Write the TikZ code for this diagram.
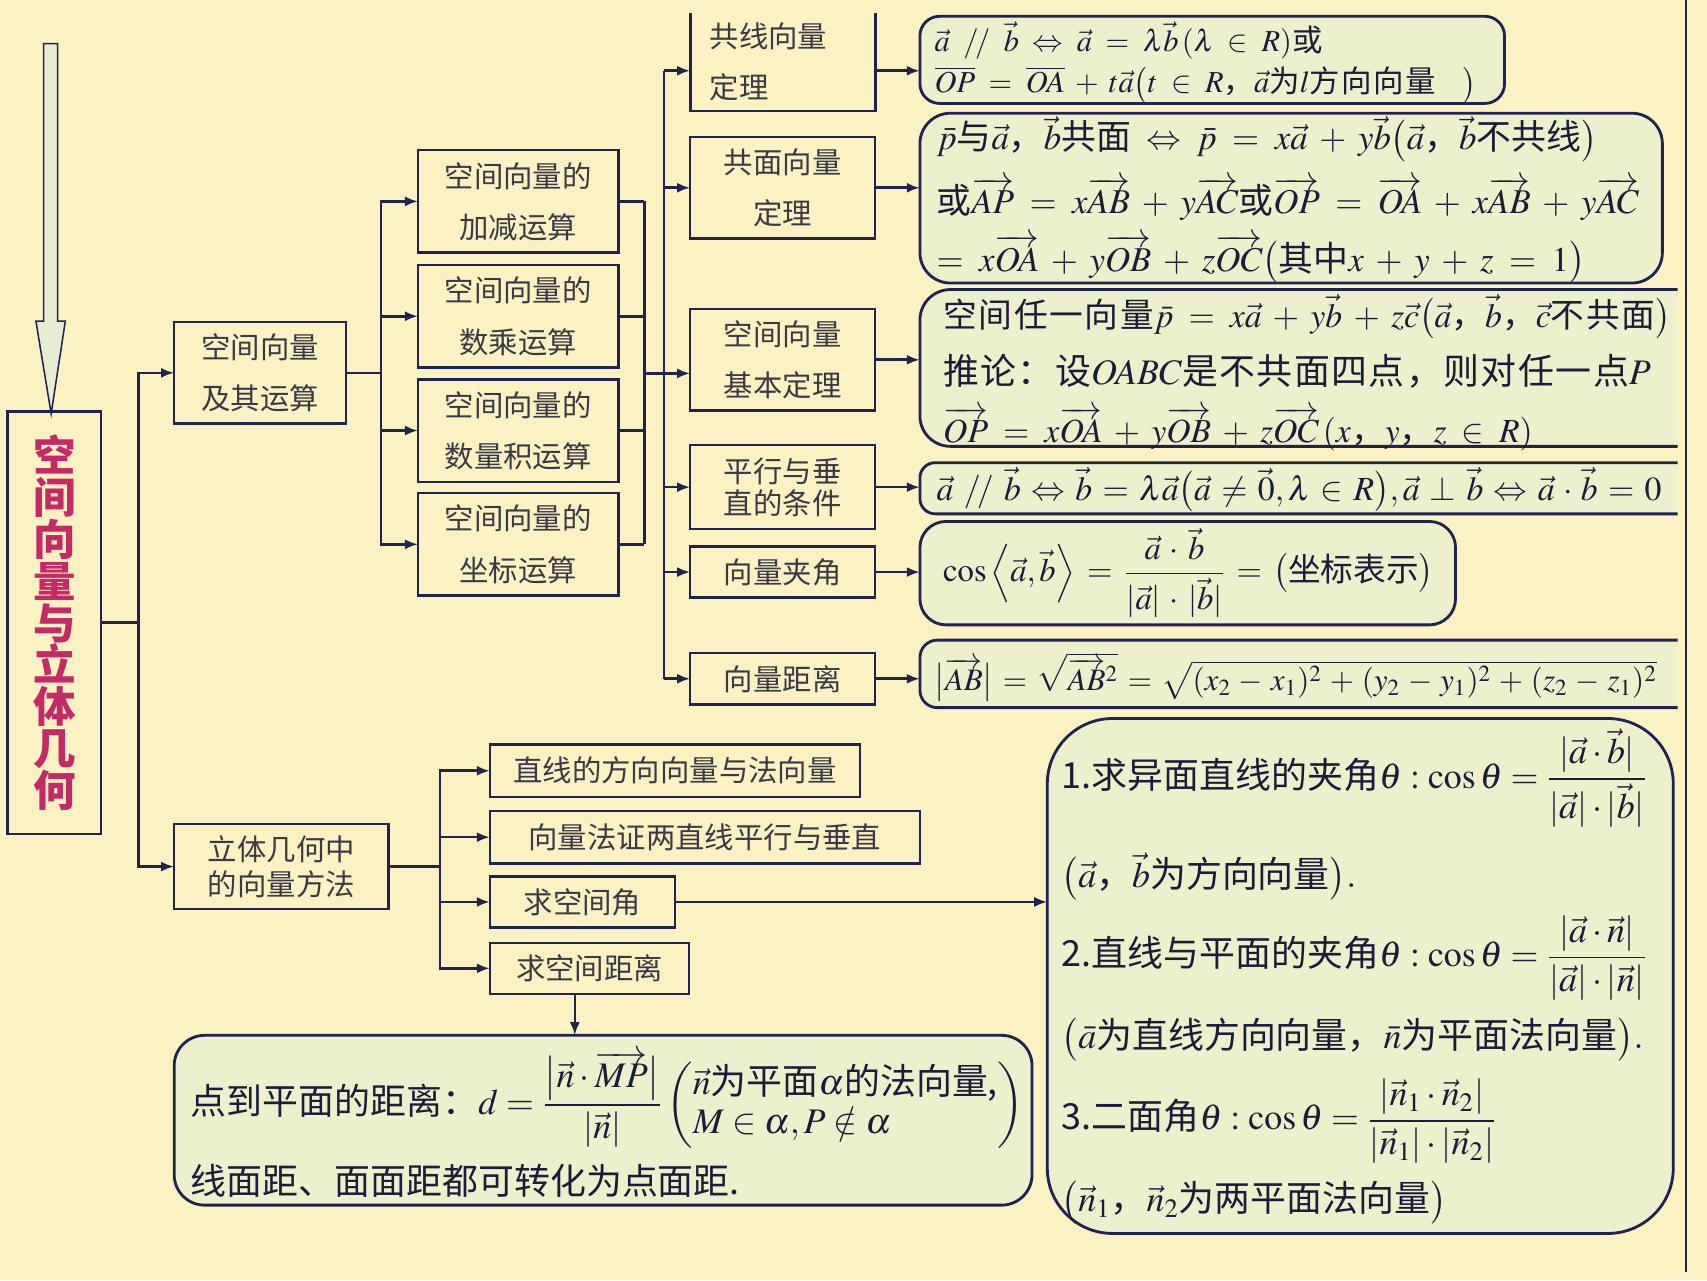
\RequirePackage{fix-cm}
\documentclass[tikz,border=0pt]{standalone}
\usepackage{amsmath,amssymb}
\usepackage{mathptmx}
\usepackage{fontspec}
\setmainfont{Noto Sans CJK SC}
\usetikzlibrary{arrows.meta}
\definecolor{bg}{HTML}{FAF2C2}
\definecolor{ln}{HTML}{20234F}
\definecolor{gbox}{HTML}{EDF0CD}
\definecolor{ttl}{HTML}{C42A66}
\definecolor{afill}{HTML}{E6EDD2}
\definecolor{txt}{HTML}{3A3A46}
\definecolor{ftc}{HTML}{1C1C38}
\newcommand\widemath{\medmuskip=6mu plus 2mu minus 2mu\relax\thickmuskip=8mu plus 3mu minus 2mu\relax}
\newcommand\midmath{\medmuskip=5mu plus 2mu minus 2mu\relax\thickmuskip=6.3mu plus 3mu minus 2mu\relax}
\newcommand\lowmath{\medmuskip=4.5mu plus 2mu minus 2mu\relax\thickmuskip=5.5mu plus 3mu minus 2mu\relax}
\begin{document}
\begin{tikzpicture}[x=0.5pt,y=-0.5pt,
  rect/.style={draw=ln,line width=1.1pt,inner sep=0pt,outer sep=0pt,align=center,text=txt,font=\fontsize{13.5}{23.5}\selectfont},
  rbox/.style={draw=ln,line width=1.3pt,fill=gbox,rounded corners=9pt,inner sep=0pt,outer sep=0pt},
  conn/.style={draw=ln,line width=1.2pt},
  arr/.style={conn,-{Latex[length=6pt,width=4.6pt]}},
  ftxt/.style={anchor=west,inner sep=0pt,text=ftc,font=\fontsize{15}{18}\selectfont}]
\fill[bg] (0,0) rectangle (1568,1176);
\useasboundingbox (0,0) rectangle (1568,1176);

% big down arrow
\draw[draw=ln,line width=0.7pt,fill=afill] (40,40) -- (53,40) -- (53,295) -- (60,295) -- (47,380) -- (33,295) -- (40,295) -- cycle;

% main title box
\node[rect,minimum width=43pt,minimum height=194pt,text=ttl,font=\fontsize{19.5}{19.2}\selectfont\bfseries] (M) at (50,572) {空\\间\\向\\量\\与\\立\\体\\几\\何};

% level 1
\node[rect,minimum width=79pt,minimum height=46.5pt] (B1) at (239,342.5) {空间向量\\及其运算};
\node[rect,minimum width=98.5pt,minimum height=39pt,font=\fontsize{13.5}{16}\selectfont] (B2) at (258.5,796) {立体几何中\\的向量方法};

% operations
\node[rect,minimum width=92pt,minimum height=47pt] (C1) at (476,185) {空间向量的\\加减运算};
\node[rect,minimum width=92pt,minimum height=47pt] (C2) at (476,290.5) {空间向量的\\数乘运算};
\node[rect,minimum width=92pt,minimum height=47pt] (C3) at (476,395.5) {空间向量的\\数量积运算};
\node[rect,minimum width=92pt,minimum height=47pt] (C4) at (476,500) {空间向量的\\坐标运算};

% theorems column
\node[rect,draw=none,minimum width=85pt,minimum height=45pt,align=left,text width=67pt] (D1) at (719,57) {共线向量\\定理};
\draw[conn] (D1.north west) -- (D1.south west) -- (D1.south east) -- (D1.north east);
\node[rect,minimum width=85pt,minimum height=46.5pt] (D2) at (719,172.5) {共面向量\\定理};
\node[rect,minimum width=85pt,minimum height=46.5pt] (D3) at (719,330.5) {空间向量\\基本定理};
\node[rect,minimum width=85pt,minimum height=38.5pt,font=\fontsize{13.5}{15}\selectfont] (D4) at (719,447.5) {平行与垂\\直的条件};
\node[rect,minimum width=85pt,minimum height=23.5pt] (D5) at (719,525.5) {向量夹角};
\node[rect,minimum width=85pt,minimum height=23.5pt] (D6) at (719,623.5) {向量距离};

% methods
\node[rect,minimum width=170pt,minimum height=24pt] (F1) at (620,708) {直线的方向向量与法向量};
\node[rect,minimum width=197.5pt,minimum height=24pt] (F2) at (647.5,769) {向量法证两直线平行与垂直};
\node[rect,minimum width=85pt,minimum height=23.5pt] (F3) at (535,828.5) {求空间角};
\node[rect,minimum width=91.5pt,minimum height=23.5pt] (F4) at (541.5,889.5) {求空间距离};

% rounded formula boxes (clipped at right edge)
\begin{scope}
\clip (0,0) rectangle (1541,1176);
\node[rbox,minimum width=268.5pt,minimum height=40pt] (E1) at (1113.5,55) {};
\node[rbox,minimum width=341pt,minimum height=78pt,rounded corners=14pt] (E2) at (1186,182) {};
\node[rbox,minimum width=397.5pt,minimum height=72pt,rounded corners=14pt] (E3) at (1242.5,338) {};
\node[rbox,minimum width=397.5pt,minimum height=23.5pt,rounded corners=7pt] (E4) at (1242.5,448.5) {};
\node[rbox,minimum width=246pt,minimum height=47.5pt,rounded corners=12pt] (E5) at (1091,526.5) {};
\node[rbox,minimum width=397.5pt,minimum height=31pt,rounded corners=8pt] (E6) at (1242.5,619) {};
\node[rbox,minimum width=287.5pt,minimum height=236.5pt,rounded corners=30pt] (E7) at (1249.5,896.5) {};
\node[rbox,minimum width=394pt,minimum height=78pt,rounded corners=14pt] (E8) at (554,1029) {};

\node[ftxt,font=\fontsize{14}{16}\selectfont\widemath] (e1a) at (858,37) {$\vec a\mathrel{/\!/}\vec b\Leftrightarrow\vec a=\lambda\vec b\,(\lambda\in R)$或};
\node[ftxt,font=\fontsize{14}{16}\selectfont\addfontfeatures{LetterSpace=4}\widemath] (e1b) at (858,78) {$\overline{OP}=\overline{OA}+t\vec a\bigl(t\in R$，$\vec a$为$l$方向向量$\;\;\bigr)$};

\node[ftxt,font=\fontsize{16}{18}\selectfont\widemath] (e2a) at (860,128) {$\bar p$与$\vec a$，$\vec b$共面$\;\Leftrightarrow\bar p=x\vec a+y\vec b\bigl(\vec a$，$\vec b$不共线$\bigr)$};
\node[ftxt,font=\fontsize{16}{18}\selectfont\widemath] (e2b) at (860,183) {或$\overrightarrow{AP}=x\overrightarrow{AB}+y\overrightarrow{AC}$或$\overrightarrow{OP}=\overrightarrow{OA}+x\overrightarrow{AB}+y\overrightarrow{AC}$};
\node[ftxt,font=\fontsize{16}{18}\selectfont\widemath] (e2c) at (860,238) {$=x\overrightarrow{OA}+y\overrightarrow{OB}+z\overrightarrow{OC}\bigl($其中$x+y+z=1\bigr)$};

\node[ftxt,font=\fontsize{15.5}{18}\selectfont\addfontfeatures{LetterSpace=5}\widemath] (e3a) at (866,291) {空间任一向量$\bar p=x\vec a+y\vec b+z\vec c\bigl(\vec a$，$\vec b$，$\vec c$不共面$\bigr)$};
\node[ftxt,font=\fontsize{16.5}{18}\selectfont\addfontfeatures{LetterSpace=4}] (e3b) at (866,341) {推论：设$OABC$是不共面四点，则对任一点$P$};
\node[ftxt,font=\fontsize{15.5}{18}\selectfont\addfontfeatures{LetterSpace=5}\widemath] (e3c) at (866,394) {$\overrightarrow{OP}=x\overrightarrow{OA}+y\overrightarrow{OB}+z\overrightarrow{OC}\,(x$，$y$，$z\in R)$};

\node[ftxt,font=\fontsize{15.5}{18}\selectfont\lowmath] (e4) at (860,450) {$\vec a\mathrel{/\!/}\vec b\Leftrightarrow\vec b=\lambda\vec a\bigl(\vec a\neq\vec 0,\lambda\in R\bigr),\vec a\perp\vec b\Leftrightarrow\vec a\cdot\vec b=0$};

\node[ftxt,font=\fontsize{15}{18}\selectfont\midmath] (e5) at (866,526) {$\cos\left\langle\vec a,\vec b\right\rangle=\dfrac{\vec a\cdot\vec b}{|\vec a|\cdot|\vec b|}=\bigl($坐标表示$\bigr)$};

\node[ftxt,font=\fontsize{14.3}{18}\selectfont\lowmath] (e6) at (858,622) {$\bigl|\overrightarrow{AB}\bigr|=\sqrt{\overrightarrow{AB}^2}=\sqrt{(x_2-x_1)^2+(y_2-y_1)^2+(z_2-z_1)^2}$};

\node[ftxt,font=\fontsize{16.5}{18}\selectfont] (e7a) at (975,715) {1.求异面直线的夹角$\theta:\cos\theta=\dfrac{|\vec a\cdot\vec b|}{|\vec a|\cdot|\vec b|}$};
\node[ftxt,font=\fontsize{16.5}{18}\selectfont] (e7b) at (975,805) {$\bigl(\vec a$，$\vec b$为方向向量$\bigr).$};
\node[ftxt,font=\fontsize{16.5}{18}\selectfont] (e7c) at (975,880) {2.直线与平面的夹角$\theta:\cos\theta=\dfrac{|\vec a\cdot\vec n|}{|\vec a|\cdot|\vec n|}$};
\node[ftxt,font=\fontsize{16.5}{18}\selectfont] (e7d) at (975,955) {$\bigl(\bar a$为直线方向向量，$\bar n$为平面法向量$\bigr).$};
\node[ftxt,font=\fontsize{16.5}{18}\selectfont] (e7e) at (975,1030) {3.二面角$\theta:\cos\theta=\dfrac{|\vec n_1\cdot\vec n_2|}{|\vec n_1|\cdot|\vec n_2|}$};
\node[ftxt,font=\fontsize{16.5}{18}\selectfont] (e7f) at (975,1105) {$\bigl(\vec n_1$，$\vec n_2$为两平面法向量$\bigr)$};

\node[ftxt,font=\fontsize{16.5}{18}\selectfont] (e8a) at (175,1010) {点到平面的距离：$d=\dfrac{\bigl|\vec n\cdot\overrightarrow{MP}\bigr|}{|\vec n|}\left(\begin{array}{@{}l@{}}\vec n\text{为平面}\alpha\text{的法向量,}\\ M\in\alpha,P\notin\alpha\end{array}\right)$};
\node[ftxt,font=\fontsize{16.5}{18}\selectfont] (e8b) at (175,1085) {线面距、面面距都可转化为点面距.};
\end{scope}

% right frame line
\draw[ln,line width=1pt] (1549,0) -- (1549,1168);

% connectors
\coordinate (j1) at (127,0);
\draw[arr] (M.east) -- (M.east -| j1) |- (B1.west);
\draw[arr] (M.east -| j1) |- (B2.west);

\coordinate (j2) at (350,0);
\draw[conn] (B1.east) -- (B1.east -| j2);
\draw[arr] (B1.east -| j2) |- (C1.west);
\draw[arr] (B1.east -| j2) |- (C2.west);
\draw[arr] (B1.east -| j2) |- (C3.west);
\draw[arr] (B1.east -| j2) |- (C4.west);

\coordinate (j3) at (592,0);
\draw[conn] (C1.east) -- (C1.east -| j3);
\draw[conn] (C2.east) -- (C2.east -| j3);
\draw[conn] (C3.east) -- (C3.east -| j3);
\draw[conn] (C4.east) -- (C4.east -| j3);
\draw[conn] (C1.east -| j3) -- (C4.east -| j3);
\coordinate (j4) at (610,0);
\coordinate (jb) at (592,343);
\draw[conn] (jb) -- (jb -| j4);

\coordinate (d1a) at (634,65);
\coordinate (d3a) at (634,343);
\draw[conn] (j4 |- d1a) -- (j4 |- D6.west);
\draw[arr] (j4 |- d1a) -- (d1a);
\draw[arr] (j4 |- D2.west) -- (D2.west);
\draw[arr] (j4 |- d3a) -- (d3a);
\draw[arr] (j4 |- D4.west) -- (D4.west);
\draw[arr] (j4 |- D5.west) -- (D5.west);
\draw[arr] (j4 |- D6.west) -- (D6.west);

\draw[arr] (D1.east |- d1a) -- (E1.west |- d1a);
\draw[arr] (D2.east) -- (E2.west |- D2.east);
\draw[arr] (D3.east) -- (E3.west |- D3.east);
\draw[arr] (D4.east) -- (E4.west |- D4.east);
\draw[arr] (D5.east) -- (E5.west |- D5.east);
\draw[arr] (D6.east) -- (E6.west |- D6.east);

\coordinate (j5) at (404,0);
\draw[conn] (B2.east) -- (B2.east -| j5);
\draw[arr] (B2.east -| j5) |- (F1.west);
\draw[arr] (B2.east -| j5) |- (F2.west);
\draw[arr] (B2.east -| j5) |- (F3.west);
\draw[arr] (B2.east -| j5) |- (F4.west);

\draw[arr] (F3.east) -- (E7.west |- F3.east);
\coordinate (j6) at (528,0);
\draw[arr] (F4.south -| j6) -- (E8.north -| j6);
\end{tikzpicture}
\end{document}
